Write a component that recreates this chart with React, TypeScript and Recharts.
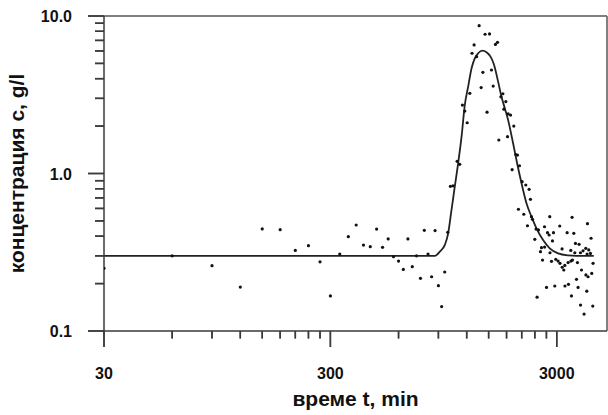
import React from 'react';
import { ComposedChart, Line, Scatter, XAxis, YAxis, ReferenceLine } from 'recharts';

// measured samples: time (min) and concentration (g/l)
const measuredT = [
  30, 60, 90, 120, 150, 180, 210, 240, 270, 300, 330, 360, 390, 420, 450, 480, 510, 540, 570, 600,
  630, 660, 690, 720, 750, 780, 810, 840, 870, 900, 930, 960, 990,
  1017, 1044, 1089, 1118, 1149, 1177, 1206, 1239, 1267, 1294, 1327, 1362, 1390, 1415, 1447, 1476,
  1514, 1544, 1571, 1608, 1642, 1664, 1699, 1734, 1752, 1787, 1818, 1830, 1875, 1905, 1938, 1977,
  2012, 2031, 2053, 2109, 2145, 2189, 2227, 2264, 2295, 2319, 2343, 2399, 2430, 2456, 2490, 2542,
  2568, 2595, 2648, 2650, 2703, 2730, 2775, 2793, 2800, 2844, 2871, 2901, 2940, 2970, 3040, 3092,
  3100, 3166, 3170, 3222, 3255, 3260, 3333, 3366, 3379, 3460, 3465, 3483, 3505, 3519, 3567, 3604,
  3628, 3666, 3702, 3726, 3763, 3817, 3820, 3858, 3920, 3960, 4029, 4035, 4071, 4083, 4099, 4123,
  4153, 4225, 4252, 4282, 4326, 4339,
];
const measuredC = [
  0.25, 0.3, 0.26, 0.19, 0.445, 0.44, 0.325, 0.348, 0.275, 0.167, 0.308, 0.397, 0.471, 0.351, 0.343, 0.444, 0.34, 0.384, 0.296, 0.278,
  0.246, 0.384, 0.256, 0.3, 0.216, 0.436, 0.308, 0.221, 0.434, 0.194, 0.143, 0.237, 0.423,
  0.829, 0.835, 1.195, 1.143, 2.72, 2.49, 2.1, 3.23, 5.8, 6.55, 5.52, 8.68, 3.51, 4.39, 7.66, 2.45,
  7.69, 4.54, 3.59, 6.6, 6.81, 1.632, 3.07, 3.21, 2.56, 2.86, 1.712, 2.39, 2.35, 1.057, 2.0, 1.32,
  1.31, 0.593, 1.12, 0.887, 0.551, 0.845, 0.466, 0.794, 0.686, 0.532, 0.512, 0.382, 0.444, 0.164, 0.438, 0.319,
  0.338, 0.282, 0.459, 0.341, 0.189, 0.421, 0.407, 0.532, 0.314, 0.277, 0.373, 0.421, 0.193, 0.285, 0.278, 0.464,
  0.269, 0.332, 0.254, 0.244, 0.261, 0.193, 0.421, 0.272, 0.198, 0.325, 0.278, 0.167, 0.527, 0.282, 0.417, 0.314,
  0.36, 0.213, 0.272, 0.189, 0.355, 0.314, 0.146, 0.244, 0.323, 0.128, 0.335, 0.227, 0.179, 0.308, 0.48, 0.221,
  0.327, 0.311, 0.388, 0.232, 0.144, 0.269,
];

// fitted curve
const curveT = [
  30, 870, 913, 961, 994, 1028, 1063, 1100, 1139, 1177, 1218, 1261, 1303, 1348, 1410, 1468, 1529,
  1586, 1652, 1710, 1769, 1828, 1924, 2004, 2096, 2204, 2319, 2440, 2610, 2793, 3040, 3366, 3666, 4370,
];
const curveC = [
  0.3, 0.3, 0.319, 0.352, 0.417, 0.586, 0.824, 1.161, 1.712, 2.72, 3.56, 4.66, 5.39, 5.8, 6.02, 5.88, 5.52,
  4.89, 3.83, 3.07, 2.59, 2.19, 1.555, 1.161, 0.867, 0.647, 0.532, 0.449, 0.378, 0.335, 0.311, 0.302, 0.3, 0.3,
];

const xDomain = [30, 5000];
const yDomain = [0.1, 10];
const xMajorTicks = [30, 300, 3000];
const xMinorTicks = [60, 90, 120, 150, 180, 210, 240, 270, 600, 900, 1200, 1500, 1800, 2100, 2400, 2700];
const yMajorTicks = [0.1, 1, 10];
const yMajorLabels = ['0.1', '1.0', '10.0'];
const yMinorTicks = [0.2, 0.3, 0.4, 0.5, 0.6, 0.7, 0.8, 0.9, 2, 3, 4, 5, 6, 7, 8, 9];

const xTitle = 'време t, min';
const yTitle = 'концентрация c, g/l';

const points = measuredT.map((t, i) => ({ t, c: measuredC[i] }));
const curve = curveT.map((t, i) => ({ t, c: curveC[i] }));
const xTicks = [...xMajorTicks, ...xMinorTicks].sort((a, b) => a - b);
const yTicks = [...yMajorTicks, ...yMinorTicks].sort((a, b) => a - b);

const FONT = '"Liberation Sans", Arial, sans-serif';
const AXIS = '#3a3a3a';
const FRAME = '#808080';

const XTick = (props: any) => {
  const x = Number(props.x);
  const y = Number(props.y);
  const v = props.payload.value;
  const major = xMajorTicks.includes(v);
  return (
    <g>
      <path d={`M${x},${y}L${x},${y + (major ? 16 : 7.5)}`} stroke={AXIS} strokeWidth={1.5} fill="none" />
      {major && (
        <text x={x} y={y + 48} textAnchor="middle" fontFamily={FONT} fontWeight="bold" fontSize={16} fill="#111">
          {String(v)}
        </text>
      )}
    </g>
  );
};

const YTick = (props: any) => {
  const x = Number(props.x);
  const y = Number(props.y);
  const v = props.payload.value;
  const idx = yMajorTicks.indexOf(v);
  const major = idx >= 0;
  return (
    <g>
      <path d={`M${x - (major ? 16 : 9)},${y}L${x},${y}`} stroke={AXIS} strokeWidth={1.5} fill="none" />
      {major && (
        <text x={x - 32} y={y + 6} textAnchor="end" fontFamily={FONT} fontWeight="bold" fontSize={16} fill="#111">
          {yMajorLabels[idx]}
        </text>
      )}
    </g>
  );
};

// axis title plus a backup drawing of the tick marks along the axis band
const XAxisTitle = (p: any) => {
  const vb = p.viewBox;
  const span = Math.log(xDomain[1] / xDomain[0]);
  const pos = (v: number) => vb.x + (vb.width * Math.log(v / xDomain[0])) / span;
  return (
    <g>
      {xTicks.map((v) => (
        <path key={v} d={`M${pos(v)},${vb.y}L${pos(v)},${vb.y + (xMajorTicks.includes(v) ? 16 : 7.5)}`} stroke={AXIS} strokeWidth={1.5} fill="none" />
      ))}
      <text x={vb.x + vb.width / 2} y={vb.y + 75} textAnchor="middle" fontFamily={FONT} fontWeight="bold" fontSize={21} fill="#111">
        {xTitle}
      </text>
    </g>
  );
};

const YAxisTitle = (p: any) => {
  const vb = p.viewBox;
  const span = Math.log(yDomain[1] / yDomain[0]);
  const pos = (v: number) => vb.y + vb.height * (1 - Math.log(v / yDomain[0]) / span);
  const right = vb.x + vb.width;
  const cy = vb.y + vb.height / 2;
  return (
    <g>
      {yTicks.map((v) => (
        <path key={v} d={`M${right - (yMajorTicks.includes(v) ? 16 : 9)},${pos(v)}L${right},${pos(v)}`} stroke={AXIS} strokeWidth={1.5} fill="none" />
      ))}
      <text x={24} y={cy} transform={`rotate(-90, 24, ${cy})`} textAnchor="middle" fontFamily={FONT} fontWeight="bold" fontSize={21} fill="#111">
        {yTitle}
      </text>
    </g>
  );
};

const renderDot = (props: any) => <circle cx={props.cx} cy={props.cy} r={1.6} fill="#111" />;

export default function App() {
  return (
    <div style={{ position: 'absolute', left: 0, top: 0, width: 608, height: 415, background: '#fff' }}>
      <ComposedChart width={608} height={415} margin={{ top: 16, right: 1, left: 0, bottom: 0 }}>
        <XAxis
          dataKey="t"
          type="number"
          scale="log"
          domain={xDomain}
          allowDataOverflow
          ticks={xTicks}
          interval={0}
          tickSize={0}
          tickMargin={0}
          tickLine={false}
          tick={<XTick />}
          height={84}
          axisLine={{ stroke: AXIS, strokeWidth: 1.5 }}
          label={{ content: XAxisTitle }}
        />
        <YAxis
          dataKey="c"
          type="number"
          scale="log"
          domain={yDomain}
          allowDataOverflow
          ticks={yTicks}
          interval={0}
          tickSize={0}
          tickMargin={0}
          tickLine={false}
          tick={<YTick />}
          width={104}
          axisLine={{ stroke: AXIS, strokeWidth: 1.5 }}
          label={{ content: YAxisTitle }}
        />
        <ReferenceLine y={10} stroke={FRAME} strokeWidth={2} />
        <ReferenceLine x={5000} stroke={FRAME} strokeWidth={2} />
        <Line data={curve} dataKey="c" type="monotone" stroke="#222" strokeWidth={1.8} dot={false} activeDot={false} isAnimationActive={false} />
        <Scatter data={points} dataKey="c" shape={renderDot} isAnimationActive={false} />
      </ComposedChart>
    </div>
  );
}
